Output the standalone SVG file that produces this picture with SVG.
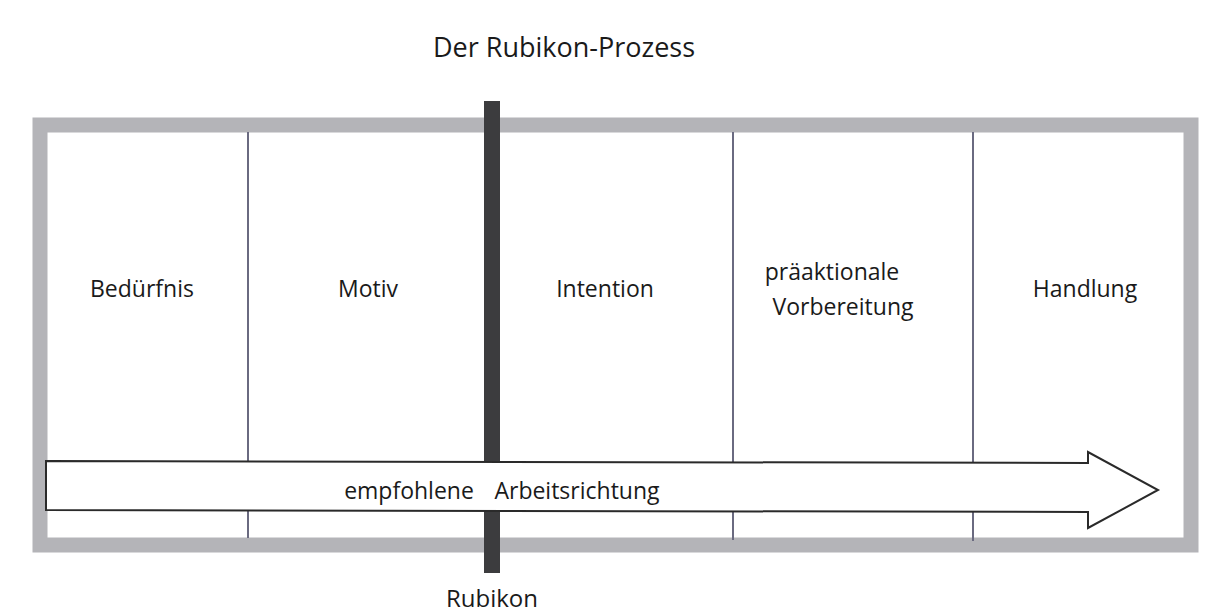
<svg xmlns="http://www.w3.org/2000/svg" width="1209" height="613" viewBox="0 0 1209 613">
<style>
.t{font-family:"Open Sans","Liberation Sans",sans-serif;font-size:23px;fill:#1a1a1a;text-anchor:middle}
.div{stroke:#6a6a80;stroke-width:2}
</style>
<rect width="1209" height="613" fill="#ffffff"/>
<g id="title"><text class="t" x="564" y="57" style="font-size:27px">Der Rubikon-Prozess</text></g>
<g id="frame">
<rect x="40" y="125" width="1151" height="420" fill="#ffffff" stroke="#b4b4b8" stroke-width="15"/>
</g>
<g id="dividers">
<line class="div" x1="248" y1="132" x2="248" y2="538"/>
<line class="div" x1="733" y1="132" x2="733" y2="540"/>
<line class="div" x1="973" y1="132" x2="973" y2="541"/>
</g>
<g id="n1"><text class="t" x="142" y="297">Bedürfnis</text></g>
<g id="n2"><text class="t" x="368" y="297">Motiv</text></g>
<g id="n3"><text class="t" x="605" y="297">Intention</text></g>
<g id="n4"><text class="t" x="832" y="280">präaktionale</text><text class="t" x="843" y="315">Vorbereitung</text></g>
<g id="n5"><text class="t" x="1085" y="297">Handlung</text></g>
<g id="rubikon">
<rect x="484" y="101" width="16" height="472" fill="#3c3c3e"/>
<text class="t" x="492" y="607" style="font-size:24px">Rubikon</text>
</g>
<g id="connectors">
<path d="M46,461 L1088,463 L1088,452 L1158,490 L1088,528 L1088,512 L46,510 Z" fill="#ffffff" stroke="#2a2a2a" stroke-width="2" stroke-linejoin="miter"/>
</g>
<g id="arrowlabel">
<text class="t" x="409" y="499">empfohlene</text>
<text class="t" x="577" y="499">Arbeitsrichtung</text>
</g>
</svg>
